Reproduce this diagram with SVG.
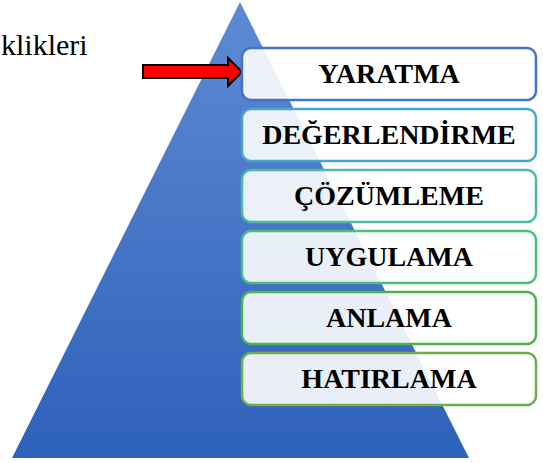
<svg xmlns="http://www.w3.org/2000/svg" width="543" height="463" viewBox="0 0 543 463">
  <defs>
    <linearGradient id="triGrad" x1="0" y1="0" x2="0" y2="1">
      <stop offset="0" stop-color="#5F8AD4"/>
      <stop offset="1" stop-color="#2E61BB"/>
    </linearGradient>
    <style>
      .box { fill: #FFFFFF; fill-opacity: 0.89; stroke-width: 2.5; }
      .lbl { font-family: "Liberation Serif", "Times New Roman", serif; font-weight: bold; font-size: 28px; text-anchor: middle; fill: #000000; }
      .side { font-family: "Liberation Serif", "Times New Roman", serif; font-size: 30px; fill: #000000; }
    </style>
  </defs>
  <rect x="0" y="0" width="543" height="463" fill="#FFFFFF"/>
  <g id="pyramid">
    <polygon points="240,2 469,458 12,458" fill="url(#triGrad)"/>
  </g>
  <g id="note">
    <text class="side" x="1" y="55">klikleri</text>
  </g>
  <g id="connectors">
    <polygon points="143,65 228,65 228,58 242,72 228,86 228,78 143,78" fill="#FF0000" stroke="#000000" stroke-width="2" stroke-linejoin="miter"/>
  </g>
  <g id="yaratma">
    <rect class="box" x="242" y="48" width="294" height="52" rx="9" stroke="#4472C4"/>
    <text class="lbl" x="389" y="83">YARATMA</text>
  </g>
  <g id="degerlendirme">
    <rect class="box" x="242" y="109" width="294" height="52" rx="9" stroke="#4AA6C6"/>
    <text class="lbl" x="389" y="144">DEĞERLENDİRME</text>
  </g>
  <g id="cozumleme">
    <rect class="box" x="242" y="170" width="294" height="52" rx="9" stroke="#4BBBA4"/>
    <text class="lbl" x="389" y="205">ÇÖZÜMLEME</text>
  </g>
  <g id="uygulama">
    <rect class="box" x="242" y="231" width="294" height="52" rx="9" stroke="#4CBD80"/>
    <text class="lbl" x="389" y="266">UYGULAMA</text>
  </g>
  <g id="anlama">
    <rect class="box" x="242" y="292" width="294" height="52" rx="9" stroke="#4CB34F"/>
    <text class="lbl" x="389" y="327">ANLAMA</text>
  </g>
  <g id="hatirlama">
    <rect class="box" x="242" y="353" width="294" height="52" rx="9" stroke="#70AD47"/>
    <text class="lbl" x="389" y="388">HATIRLAMA</text>
  </g>
</svg>
